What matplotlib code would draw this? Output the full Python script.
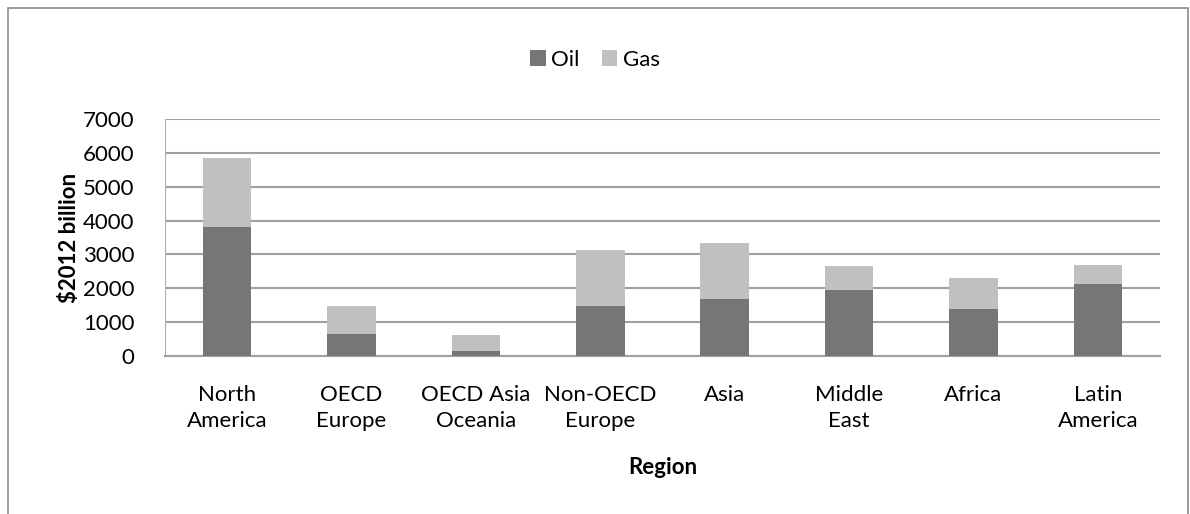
import numpy as np
import matplotlib.pyplot as plt
from matplotlib.patches import Rectangle

plt.rcParams['font.family'] = ['Lato', 'DejaVu Sans']

regions = ["North\nAmerica", "OECD\nEurope", "OECD Asia\nOceania", "Non-OECD\nEurope",
           "Asia", "Middle\nEast", "Africa", "Latin\nAmerica"]
oil = [3800, 650, 160, 1490, 1700, 1950, 1380, 2130]
gas = [2030, 820, 460, 1630, 1630, 700, 930, 560]
yticks = [0, 1000, 2000, 3000, 4000, 5000, 6000, 7000]

oil_color = '#767676'
gas_color = '#c0c0c0'

fig = plt.figure(figsize=(11.9, 5.14), dpi=100)
# plot area in pixels: x 165..1160, y 118.7..356.3 (from top)
ax = fig.add_axes([165 / 1190, 1 - 356.3 / 514, (1160 - 165) / 1190, (356.3 - 118.7) / 514])

x = np.arange(len(regions))
ax.bar(x, oil, width=0.39, color=oil_color, label='Oil', zorder=3)
ax.bar(x, gas, width=0.39, bottom=oil, color=gas_color, label='Gas', zorder=3)

ax.set_xlim(-0.5, len(regions) - 0.5)
ax.set_ylim(0, 7000)
ax.set_yticks(yticks)
ax.set_yticklabels([str(v) for v in yticks], fontsize=16)
ax.set_xticks(x)
ax.set_xticklabels(regions, fontsize=16, linespacing=1.35)
ax.tick_params(length=0)
ax.tick_params(axis='y', pad=22)
ax.tick_params(axis='x', pad=21)

ax.grid(axis='y', color='#a0a0a0', linewidth=1.5, zorder=0)
for s in ['top', 'right']:
    ax.spines[s].set_visible(False)
ax.spines['left'].set_color('#b0b0b0')
ax.spines['bottom'].set_color('#a0a0a0')
ax.spines['bottom'].set_linewidth(1.5)

ax.set_ylabel('$2012 billion', fontsize=16, fontweight='bold', labelpad=2)
ax.set_xlabel('Region', fontsize=16, fontweight='bold', labelpad=19)

fig.legend(loc='center', bbox_to_anchor=(595 / 1190, 1 - 60 / 514), ncol=2, frameon=False,
           fontsize=16, handlelength=0.7, handleheight=0.7, handletextpad=0.25, columnspacing=1.0)

# chart border
fig.patches.append(Rectangle((8 / 1190, -0.1), 1180 / 1190, 1.1 - 8 / 514, transform=fig.transFigure,
                             fill=False, edgecolor='#8c8c8c', linewidth=1.2))

fig.savefig('out.png', dpi=100)
